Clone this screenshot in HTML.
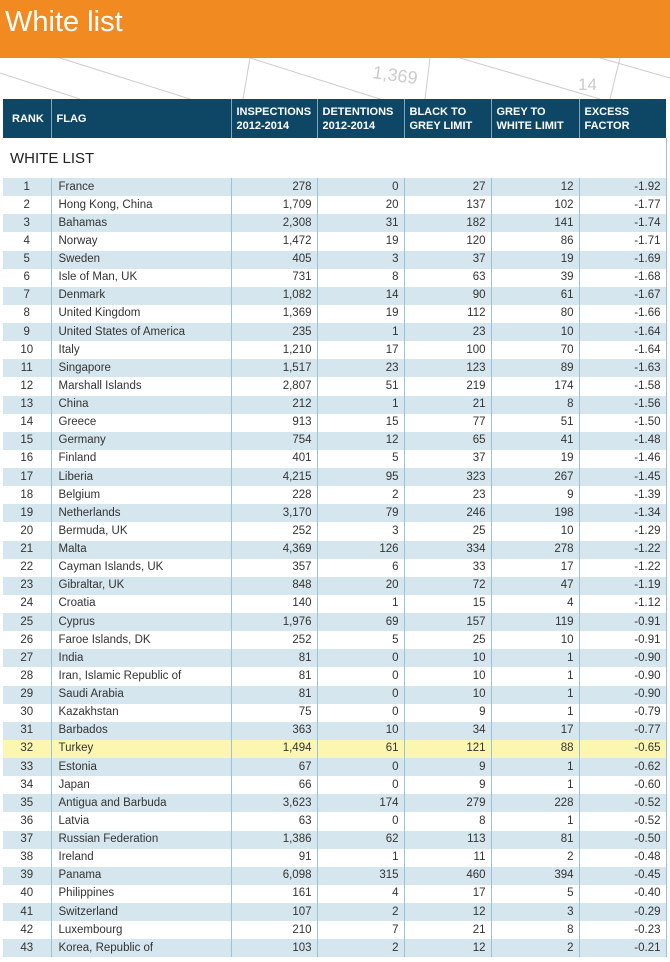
<!DOCTYPE html>
<html><head><meta charset="utf-8"><style>
*{margin:0;padding:0;box-sizing:border-box}
body{width:670px;height:962px;background:#fff;position:relative;overflow:hidden;font-family:"Liberation Sans Narrow","Liberation Sans",sans-serif}
.top{position:absolute;left:0;top:0;width:670px;height:58px;background:#f28a22;color:#fff;font-size:29px;padding:6px 0 0 5px;font-family:"Liberation Sans",sans-serif}
svg.bg{position:absolute;left:0;top:58px}
table{position:absolute;left:3px;top:99px;width:663px;border-collapse:collapse;table-layout:fixed}
th{background:#0e4766;color:#fff;font-size:11px;font-weight:bold;text-align:left;padding:0 5px;height:39px;border-left:1px solid #7fa7bd;line-height:14px;vertical-align:middle;white-space:nowrap}
th:first-child{border-left:none;padding-left:9px}
td{font-size:11.5px;color:#333;height:18.14px;padding:0 5px;border-left:1px solid #9cc3d3;text-align:right;white-space:nowrap;line-height:17px}
td:first-child{border-left:none;text-align:center}
td:nth-child(2){text-align:left;padding-left:7px}
tr.o td{background:#d6e6ee}
tr.y td{background:#fbf7b0}
tr.wl td{height:40px;font-size:15px;font-weight:normal;text-align:left;padding-left:7px;color:#222;background:#fff}
tbody{border-right:1px solid #9cc3d3}
</style></head><body>
<div class="top">White list</div>
<svg class="bg" width="670" height="41"><g stroke="#ccc" fill="none" stroke-width="1">
<line x1="60" y1="0" x2="190" y2="41"/><line x1="0" y1="15" x2="80" y2="41"/><line x1="250" y1="0" x2="380" y2="41"/>
<line x1="250" y1="0" x2="243" y2="41"/><line x1="430" y1="0" x2="425" y2="41"/>
<line x1="460" y1="0" x2="600" y2="41"/><line x1="600" y1="0" x2="670" y2="20"/><line x1="620" y1="0" x2="610" y2="41"/></g>
<text x="372" y="20" font-size="18" fill="#ccc" font-family="Liberation Sans" transform="rotate(8 372 20)">1,369</text>
<text x="578" y="32" font-size="17" fill="#ccc" font-family="Liberation Sans">14</text></svg>
<table>
<colgroup><col style="width:48px"><col style="width:180px"><col style="width:86px"><col style="width:87px"><col style="width:87px"><col style="width:88px"><col style="width:87px"></colgroup>
<thead><tr><th>RANK</th><th>FLAG</th><th>INSPECTIONS<br>2012-2014</th><th>DETENTIONS<br>2012-2014</th><th>BLACK TO<br>GREY LIMIT</th><th>GREY TO<br>WHITE LIMIT</th><th>EXCESS<br>FACTOR</th></tr></thead>
<tbody>
<tr class="wl"><td colspan="7" style="text-align:left">WHITE LIST</td></tr>
<tr class="o"><td>1</td><td>France</td><td>278</td><td>0</td><td>27</td><td>12</td><td>-1.92</td></tr>
<tr><td>2</td><td>Hong Kong, China</td><td>1,709</td><td>20</td><td>137</td><td>102</td><td>-1.77</td></tr>
<tr class="o"><td>3</td><td>Bahamas</td><td>2,308</td><td>31</td><td>182</td><td>141</td><td>-1.74</td></tr>
<tr><td>4</td><td>Norway</td><td>1,472</td><td>19</td><td>120</td><td>86</td><td>-1.71</td></tr>
<tr class="o"><td>5</td><td>Sweden</td><td>405</td><td>3</td><td>37</td><td>19</td><td>-1.69</td></tr>
<tr><td>6</td><td>Isle of Man, UK</td><td>731</td><td>8</td><td>63</td><td>39</td><td>-1.68</td></tr>
<tr class="o"><td>7</td><td>Denmark</td><td>1,082</td><td>14</td><td>90</td><td>61</td><td>-1.67</td></tr>
<tr><td>8</td><td>United Kingdom</td><td>1,369</td><td>19</td><td>112</td><td>80</td><td>-1.66</td></tr>
<tr class="o"><td>9</td><td>United States of America</td><td>235</td><td>1</td><td>23</td><td>10</td><td>-1.64</td></tr>
<tr><td>10</td><td>Italy</td><td>1,210</td><td>17</td><td>100</td><td>70</td><td>-1.64</td></tr>
<tr class="o"><td>11</td><td>Singapore</td><td>1,517</td><td>23</td><td>123</td><td>89</td><td>-1.63</td></tr>
<tr><td>12</td><td>Marshall Islands</td><td>2,807</td><td>51</td><td>219</td><td>174</td><td>-1.58</td></tr>
<tr class="o"><td>13</td><td>China</td><td>212</td><td>1</td><td>21</td><td>8</td><td>-1.56</td></tr>
<tr><td>14</td><td>Greece</td><td>913</td><td>15</td><td>77</td><td>51</td><td>-1.50</td></tr>
<tr class="o"><td>15</td><td>Germany</td><td>754</td><td>12</td><td>65</td><td>41</td><td>-1.48</td></tr>
<tr><td>16</td><td>Finland</td><td>401</td><td>5</td><td>37</td><td>19</td><td>-1.46</td></tr>
<tr class="o"><td>17</td><td>Liberia</td><td>4,215</td><td>95</td><td>323</td><td>267</td><td>-1.45</td></tr>
<tr><td>18</td><td>Belgium</td><td>228</td><td>2</td><td>23</td><td>9</td><td>-1.39</td></tr>
<tr class="o"><td>19</td><td>Netherlands</td><td>3,170</td><td>79</td><td>246</td><td>198</td><td>-1.34</td></tr>
<tr><td>20</td><td>Bermuda, UK</td><td>252</td><td>3</td><td>25</td><td>10</td><td>-1.29</td></tr>
<tr class="o"><td>21</td><td>Malta</td><td>4,369</td><td>126</td><td>334</td><td>278</td><td>-1.22</td></tr>
<tr><td>22</td><td>Cayman Islands, UK</td><td>357</td><td>6</td><td>33</td><td>17</td><td>-1.22</td></tr>
<tr class="o"><td>23</td><td>Gibraltar, UK</td><td>848</td><td>20</td><td>72</td><td>47</td><td>-1.19</td></tr>
<tr><td>24</td><td>Croatia</td><td>140</td><td>1</td><td>15</td><td>4</td><td>-1.12</td></tr>
<tr class="o"><td>25</td><td>Cyprus</td><td>1,976</td><td>69</td><td>157</td><td>119</td><td>-0.91</td></tr>
<tr><td>26</td><td>Faroe Islands, DK</td><td>252</td><td>5</td><td>25</td><td>10</td><td>-0.91</td></tr>
<tr class="o"><td>27</td><td>India</td><td>81</td><td>0</td><td>10</td><td>1</td><td>-0.90</td></tr>
<tr><td>28</td><td>Iran, Islamic Republic of</td><td>81</td><td>0</td><td>10</td><td>1</td><td>-0.90</td></tr>
<tr class="o"><td>29</td><td>Saudi Arabia</td><td>81</td><td>0</td><td>10</td><td>1</td><td>-0.90</td></tr>
<tr><td>30</td><td>Kazakhstan</td><td>75</td><td>0</td><td>9</td><td>1</td><td>-0.79</td></tr>
<tr class="o"><td>31</td><td>Barbados</td><td>363</td><td>10</td><td>34</td><td>17</td><td>-0.77</td></tr>
<tr class="y"><td>32</td><td>Turkey</td><td>1,494</td><td>61</td><td>121</td><td>88</td><td>-0.65</td></tr>
<tr class="o"><td>33</td><td>Estonia</td><td>67</td><td>0</td><td>9</td><td>1</td><td>-0.62</td></tr>
<tr><td>34</td><td>Japan</td><td>66</td><td>0</td><td>9</td><td>1</td><td>-0.60</td></tr>
<tr class="o"><td>35</td><td>Antigua and Barbuda</td><td>3,623</td><td>174</td><td>279</td><td>228</td><td>-0.52</td></tr>
<tr><td>36</td><td>Latvia</td><td>63</td><td>0</td><td>8</td><td>1</td><td>-0.52</td></tr>
<tr class="o"><td>37</td><td>Russian Federation</td><td>1,386</td><td>62</td><td>113</td><td>81</td><td>-0.50</td></tr>
<tr><td>38</td><td>Ireland</td><td>91</td><td>1</td><td>11</td><td>2</td><td>-0.48</td></tr>
<tr class="o"><td>39</td><td>Panama</td><td>6,098</td><td>315</td><td>460</td><td>394</td><td>-0.45</td></tr>
<tr><td>40</td><td>Philippines</td><td>161</td><td>4</td><td>17</td><td>5</td><td>-0.40</td></tr>
<tr class="o"><td>41</td><td>Switzerland</td><td>107</td><td>2</td><td>12</td><td>3</td><td>-0.29</td></tr>
<tr><td>42</td><td>Luxembourg</td><td>210</td><td>7</td><td>21</td><td>8</td><td>-0.23</td></tr>
<tr class="o"><td>43</td><td>Korea, Republic of</td><td>103</td><td>2</td><td>12</td><td>2</td><td>-0.21</td></tr>
</tbody></table>
</body></html>
